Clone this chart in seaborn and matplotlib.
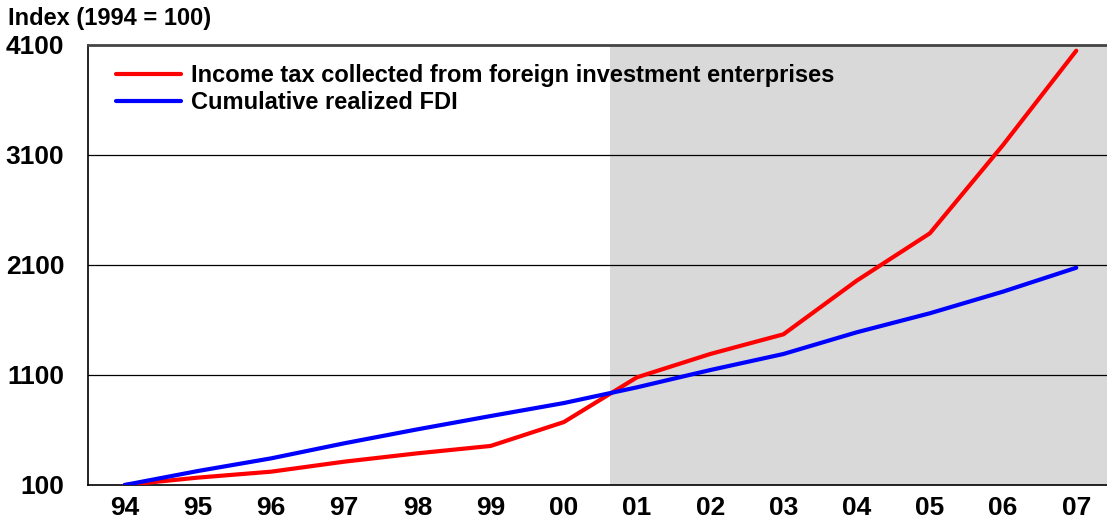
import numpy as np
import pandas as pd
import matplotlib
matplotlib.use('Agg')
import matplotlib.pyplot as plt
import seaborn as sns

years = ['94', '95', '96', '97', '98', '99', '00', '01', '02', '03', '04', '05', '06', '07']
income_tax = [100, 167, 221, 312, 388, 455, 672, 1079, 1291, 1470, 1957, 2388, 3191, 4048]
cumulative_fdi = [100, 227, 342, 479, 606, 727, 845, 988, 1145, 1291, 1488, 1661, 1858, 2075]
series_names = ['Income tax collected from foreign investment enterprises', 'Cumulative realized FDI']
y_ticks = [100, 1100, 2100, 3100, 4100]

sns.set_theme(style='white')
plt.rcParams['font.family'] = ['Liberation Sans', 'DejaVu Sans']
plt.rcParams['font.weight'] = 'bold'
plt.rcParams['text.color'] = 'black'
plt.rcParams['xtick.color'] = 'black'
plt.rcParams['ytick.color'] = 'black'

pos = np.arange(len(years))
df = pd.DataFrame({
    'pos': np.concatenate([pos, pos]),
    'value': income_tax + cumulative_fdi,
    'series': [series_names[0]] * len(years) + [series_names[1]] * len(years),
})

fig = plt.figure(figsize=(11.07, 5.24), dpi=100)
ax = fig.add_axes([88 / 1107, 39 / 524, 1019 / 1107, 440 / 524])

# grey shaded period from 2001
ax.axvspan(6.63, 14, color='#d9d9d9', zorder=0, lw=0)
for y in y_ticks[1:4]:
    ax.axhline(y, color='black', lw=0.9, zorder=1)

sns.lineplot(data=df, x='pos', y='value', hue='series', palette=['#ff0000', '#0000ff'],
             linewidth=3, ax=ax, zorder=3, legend=True)

ax.set_xlim(-0.5, 13.42)
ax.set_ylim(100, 4100)
ax.set_yticks(y_ticks)
ax.set_yticklabels([str(v) for v in y_ticks], fontsize=19, fontweight='bold')
ax.set_xticks(pos)
ax.set_xticklabels(years, fontsize=19, fontweight='bold')
ax.set_xticks(pos[:-1] + 0.5, minor=True)
ax.tick_params(axis='x', which='major', length=0, pad=8)
ax.tick_params(axis='x', which='minor', length=7, width=1, color='#333333', direction='out')
ax.tick_params(axis='y', which='major', length=7, width=1, color='#333333', direction='out', pad=10)
ax.set_xlabel('')
ax.set_ylabel('')

for side in ['left', 'bottom']:
    ax.spines[side].set_color('black')
    ax.spines[side].set_linewidth(1.2)
ax.spines['top'].set_color('#444444')
ax.spines['top'].set_linewidth(2)
ax.spines['right'].set_visible(False)

leg = ax.legend(loc='upper left', bbox_to_anchor=(0.007, 1.004), frameon=False,
                fontsize=17, handlelength=2.75, handletextpad=0.42, labelspacing=0.15)
for t in leg.get_texts():
    t.set_fontweight('bold')
    t.set_color('black')
for l in leg.get_lines():
    l.set_linewidth(3)

fig.text(8 / 1107, 1 - 18 / 524, 'Index (1994 = 100)', fontsize=17, fontweight='bold',
         va='center', ha='left', color='black')

fig.savefig('out.png', dpi=100)
